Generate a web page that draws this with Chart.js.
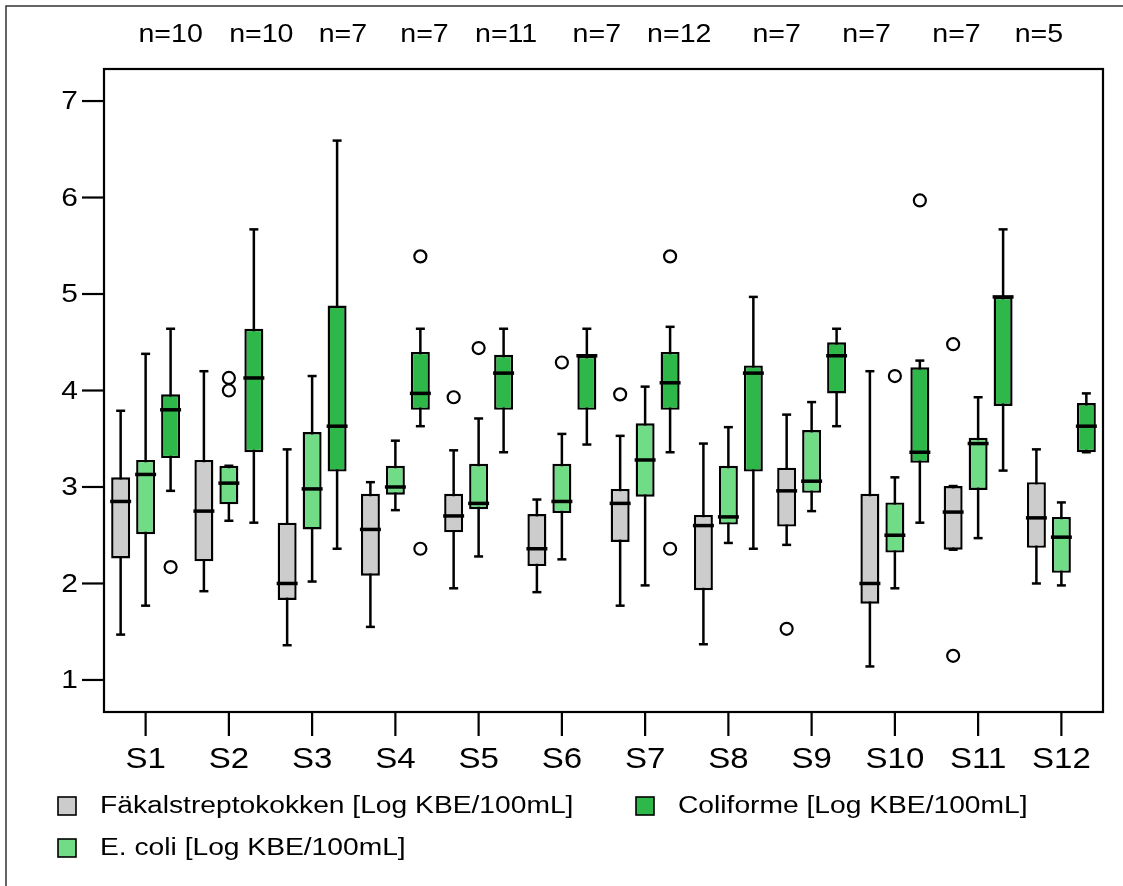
<!DOCTYPE html>
<html>
<head>
<meta charset="utf-8">
<script src="https://cdn.jsdelivr.net/npm/chart.js@4.4.1/dist/chart.umd.min.js"></script>
<style>
  html, body { margin: 0; padding: 0; background: #fff; }
  #wrap { position: relative; width: 1123px; height: 886px; }
</style>
</head>
<body>
<div id="wrap"><canvas id="boxChart"></canvas></div>
<script>
// Messstellen
const categories = ['S1', 'S2', 'S3', 'S4', 'S5', 'S6', 'S7', 'S8', 'S9', 'S10', 'S11', 'S12'];
const yTicks = [1, 2, 3, 4, 5, 6, 7];
const nLabels = ['n=10', 'n=10', 'n=7', 'n=7', 'n=11', 'n=7', 'n=12', 'n=7', 'n=7', 'n=7', 'n=5'];
// wo die n-Beschriftungen stehen (in Kategorie-Einheiten)
const nLabelPos = [0.30, 1.39, 2.37, 3.35, 4.33, 5.42, 6.41, 7.58, 8.66, 9.74, 10.73];

// [unterer Whisker, Q1, Median, Q3, oberer Whisker]
const faekal = [
  [1.47, 2.26, 2.85, 3.10, 3.79], [1.92, 2.23, 2.75, 3.28, 4.20], [1.36, 1.83, 2.00, 2.63, 3.39],
  [1.55, 2.08, 2.56, 2.93, 3.05], [1.95, 2.53, 2.70, 2.93, 3.38], [1.91, 2.18, 2.36, 2.72, 2.87],
  [1.77, 2.43, 2.83, 2.98, 3.53], [1.37, 1.93, 2.60, 2.71, 3.45], [2.40, 2.59, 2.96, 3.20, 3.75],
  [1.14, 1.79, 2.00, 2.93, 4.20], [2.35, 2.35, 2.74, 3.01, 3.01], [2.00, 2.37, 2.68, 3.05, 3.39]
];
const faekalOut = [[], [], [], [], [3.93], [], [3.96], [], [1.53], [], [4.48, 1.25], []];

const ecoli = [
  [1.77, 2.51, 3.13, 3.28, 4.38], [2.65, 2.82, 3.04, 3.22, 3.22], [2.02, 2.56, 2.98, 3.57, 4.15],
  [2.76, 2.92, 3.00, 3.22, 3.48], [2.28, 2.77, 2.83, 3.24, 3.71], [2.25, 2.73, 2.85, 3.24, 3.55],
  [1.98, 2.90, 3.28, 3.66, 4.04], [2.42, 2.61, 2.69, 3.22, 3.62], [2.75, 2.94, 3.06, 3.59, 3.88],
  [1.95, 2.32, 2.50, 2.84, 3.10], [2.47, 2.97, 3.45, 3.51, 3.93], [1.98, 2.11, 2.48, 2.69, 2.84]
];
const ecoliOut = [[], [4.00, 4.13], [], [], [4.44], [4.29], [], [], [], [4.15], [], []];

const coliforme = [
  [2.96, 3.30, 3.80, 3.96, 4.64], [2.63, 3.36, 4.13, 4.64, 5.67], [2.36, 3.16, 3.63, 4.88, 6.59],
  [3.63, 3.80, 3.97, 4.40, 4.64], [3.36, 3.80, 4.18, 4.37, 4.64], [3.44, 3.80, 4.36, 4.36, 4.64],
  [3.36, 3.80, 4.08, 4.40, 4.66], [2.36, 3.16, 4.18, 4.26, 4.97], [3.63, 3.97, 4.36, 4.50, 4.64],
  [2.63, 3.25, 3.36, 4.24, 4.31], [3.17, 3.84, 4.97, 4.97, 5.67], [3.36, 3.36, 3.63, 3.87, 3.97]
];
const coliformeOut = [[2.17], [], [], [5.39, 2.36], [], [], [5.39, 2.36], [], [], [5.97], [], []];

const series = [
  { label: 'Fäkalstreptokokken [Log KBE/100mL]', stats: faekal, out: faekalOut, color: '#cccccc' },
  { label: 'E. coli [Log KBE/100mL]', stats: ecoli, out: ecoliOut, color: '#70dd86' },
  { label: 'Coliforme [Log KBE/100mL]', stats: coliforme, out: coliformeOut, color: '#2fb84a' }
];

const FONT = '"Liberation Sans", Arial, sans-serif';

// Text etwas in die Breite gezogen, wie im Original
function wideText(ctx, text, x, y, size, align, sx) {
  ctx.save();
  ctx.font = size + 'px ' + FONT;
  ctx.fillStyle = '#000';
  ctx.textBaseline = 'middle';
  const w = ctx.measureText(text).width * sx;
  let left = x;
  if (align === 'center') left = x - w / 2;
  if (align === 'right') left = x - w;
  ctx.translate(left, y);
  ctx.scale(sx, 1);
  ctx.textAlign = 'left';
  ctx.fillText(text, 0, 0);
  ctx.restore();
}

const boxPlot = {
  id: 'boxPlot',
  beforeDatasetsDraw(chart) {
    const ctx = chart.ctx, y = chart.scales.y;
    ctx.save();
    ctx.strokeStyle = '#000';
    ctx.lineWidth = 2.5;
    series.forEach((s, di) => {
      chart.getDatasetMeta(di).data.forEach((bar, i) => {
        const lo = s.stats[i][0], hi = s.stats[i][4];
        ctx.beginPath();
        ctx.moveTo(bar.x, y.getPixelForValue(lo));
        ctx.lineTo(bar.x, y.getPixelForValue(hi));
        ctx.stroke();
        [lo, hi].forEach(v => {
          const py = y.getPixelForValue(v);
          ctx.beginPath();
          ctx.moveTo(bar.x - 4.5, py);
          ctx.lineTo(bar.x + 4.5, py);
          ctx.stroke();
        });
      });
    });
    ctx.restore();
  },
  afterDatasetsDraw(chart) {
    const ctx = chart.ctx, y = chart.scales.y;
    ctx.save();
    ctx.strokeStyle = '#000';
    series.forEach((s, di) => {
      chart.getDatasetMeta(di).data.forEach((bar, i) => {
        const py = y.getPixelForValue(s.stats[i][2]);
        ctx.lineWidth = 3.5;
        ctx.beginPath();
        ctx.moveTo(bar.x - bar.width / 2 - 1, py);
        ctx.lineTo(bar.x + bar.width / 2 + 1, py);
        ctx.stroke();
        ctx.lineWidth = 2.2;
        s.out[i].forEach(v => {
          ctx.beginPath();
          ctx.arc(bar.x, y.getPixelForValue(v), 6, 0, Math.PI * 2);
          ctx.stroke();
        });
      });
    });
    ctx.restore();
  },
  afterDraw(chart) {
    const ctx = chart.ctx, a = chart.chartArea;
    const x = chart.scales.x, y = chart.scales.y;
    ctx.save();
    // aeusserer Rahmen
    ctx.strokeStyle = '#333';
    ctx.lineWidth = 1.5;
    ctx.strokeRect(6, 6, chart.width + 10, chart.height + 10);
    // Plotrahmen
    ctx.strokeStyle = '#000';
    ctx.lineWidth = 2.2;
    ctx.strokeRect(a.left, a.top, a.right - a.left, a.bottom - a.top);
    // y-Achse
    yTicks.forEach(t => {
      const py = y.getPixelForValue(t);
      ctx.beginPath();
      ctx.moveTo(a.left - 22, py);
      ctx.lineTo(a.left, py);
      ctx.stroke();
      wideText(ctx, String(t), a.left - 26, py + 1, 26, 'right', 1.15);
    });
    // x-Achse
    categories.forEach((c, i) => {
      const px = x.getPixelForValue(i);
      ctx.beginPath();
      ctx.moveTo(px, a.bottom);
      ctx.lineTo(px, a.bottom + 24);
      ctx.stroke();
      wideText(ctx, c, px, a.bottom + 48, 30, 'center', 1.1);
    });
    // n-Werte oben
    nLabels.forEach((t, i) => {
      wideText(ctx, t, x.getPixelForValue(nLabelPos[i]), 35, 25.5, 'center', 1.12);
    });
    // Legende, zwei Spalten
    const items = [
      { ds: 0, bx: 58, row: 806 },
      { ds: 2, bx: 636, row: 806 },
      { ds: 1, bx: 58, row: 848 }
    ];
    items.forEach(it => {
      const ds = chart.data.datasets[it.ds];
      ctx.fillStyle = ds.backgroundColor;
      ctx.fillRect(it.bx, it.row - 9, 18, 18);
      ctx.lineWidth = 1.6;
      ctx.strokeStyle = '#000';
      ctx.strokeRect(it.bx, it.row - 9, 18, 18);
      wideText(ctx, ds.label, it.bx + 42, it.row + 1, 23.5, 'left', 1.2);
    });
    ctx.restore();
  }
};

new Chart(document.getElementById('boxChart'), {
  type: 'bar',
  data: {
    labels: categories,
    datasets: series.map(s => ({
      label: s.label,
      data: s.stats.map(r => [r[1], r[3]]),
      backgroundColor: s.color,
      borderColor: '#000',
      borderWidth: 2.4,
      borderSkipped: false,
      categoryPercentage: 0.9,
      barPercentage: 0.76
    }))
  },
  options: {
    responsive: true,
    maintainAspectRatio: false,
    animation: false,
    layout: { padding: { left: 104, right: 20, top: 69, bottom: 174 } },
    scales: {
      x: { display: false, offset: true },
      y: { display: false, min: 0.668, max: 7.332 }
    },
    plugins: { legend: { display: false }, tooltip: { enabled: false } }
  },
  plugins: [boxPlot]
});
</script>
</body>
</html>
